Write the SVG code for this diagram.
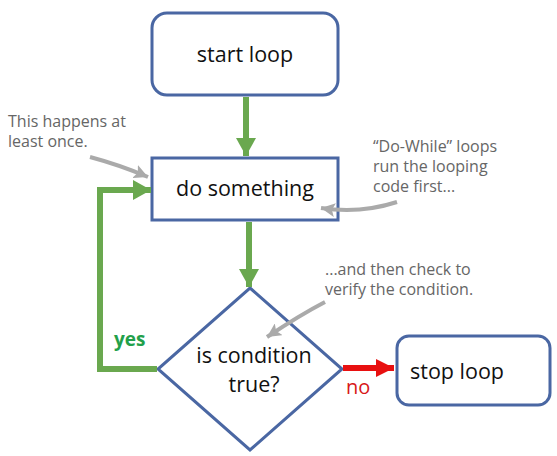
<svg xmlns="http://www.w3.org/2000/svg" width="557" height="456" viewBox="0 0 557 456">
<defs>
<style>
.box{fill:#fff;stroke:#4a67a3;stroke-width:3}
.lbl{font-family:"Open Sans","Liberation Sans",sans-serif;font-size:21.5px;fill:#111;text-anchor:middle}
.note{font-family:"Open Sans","Liberation Sans",sans-serif;font-size:16px;fill:#666}
.g{stroke:#6aa84f;stroke-width:6;fill:none}
.r{stroke:#e81010;stroke-width:6;fill:none}
.gr{stroke:#aaa;stroke-width:4;fill:none}
</style>
<marker id="ag" markerUnits="userSpaceOnUse" markerWidth="22" markerHeight="20" refX="18" refY="10" orient="auto"><path d="M0,0 L18,10 L0,20 Z" fill="#6aa84f"/></marker>
<marker id="ar" markerUnits="userSpaceOnUse" markerWidth="22" markerHeight="20" refX="18" refY="10" orient="auto"><path d="M0,1 L18,10 L0,19 Z" fill="#e81010"/></marker>
<marker id="agr" markerUnits="userSpaceOnUse" markerWidth="16" markerHeight="14" refX="14" refY="7" orient="auto"><path d="M0,0 L14,7 L0,14 L3,7 Z" fill="#aaa"/></marker>
</defs>
<rect width="557" height="456" fill="#fff"/>
<g id="start">
<rect class="box" x="152" y="13" width="186" height="82" rx="15"/>
<text class="lbl" x="245" y="62">start loop</text>
</g>
<g id="do">
<rect class="box" x="152" y="158" width="186" height="62"/>
<text class="lbl" x="245" y="196">do something</text>
</g>
<g id="cond">
<polygon class="box" points="250,288 342,369 250,450 158,369"/>
<text class="lbl" x="254" y="363">is condition</text>
<text class="lbl" x="254" y="392">true?</text>
</g>
<g id="stop">
<rect class="box" x="397" y="336" width="153" height="69" rx="12"/>
<text class="lbl" x="457" y="379">stop loop</text>
</g>
<g id="connectors">
<line class="g" x1="246" y1="97" x2="246" y2="156" marker-end="url(#ag)"/>
<line class="g" x1="249" y1="222" x2="249" y2="287" marker-end="url(#ag)"/>
<polyline class="g" points="157,369 100,369 100,190 151,190" marker-end="url(#ag)"/>
<line class="r" x1="343" y1="368" x2="394" y2="368" marker-end="url(#ar)"/>
<path class="gr" d="M90,157 Q120,165 148,177" marker-end="url(#agr)"/>
<path class="gr" d="M397,202 Q360,214 321,208" marker-end="url(#agr)"/>
<path class="gr" d="M325,302 Q300,315 267,337" marker-end="url(#agr)"/>
</g>
<g id="labels">
<text x="114" y="346" font-family="Open Sans, Liberation Sans, sans-serif" font-size="19" font-weight="bold" fill="#22a04a">yes</text>
<text x="346" y="394" font-family="Open Sans, Liberation Sans, sans-serif" font-size="20" fill="#d81818">no</text>
</g>
<g id="notes">
<text class="note" x="8" y="127">This happens at</text>
<text class="note" x="8" y="147">least once.</text>
<text class="note" x="373" y="152">“Do-While” loops</text>
<text class="note" x="373" y="172">run the looping</text>
<text class="note" x="373" y="192">code first...</text>
<text class="note" x="325" y="275">...and then check to</text>
<text class="note" x="325" y="295">verify the condition.</text>
</g>
</svg>
